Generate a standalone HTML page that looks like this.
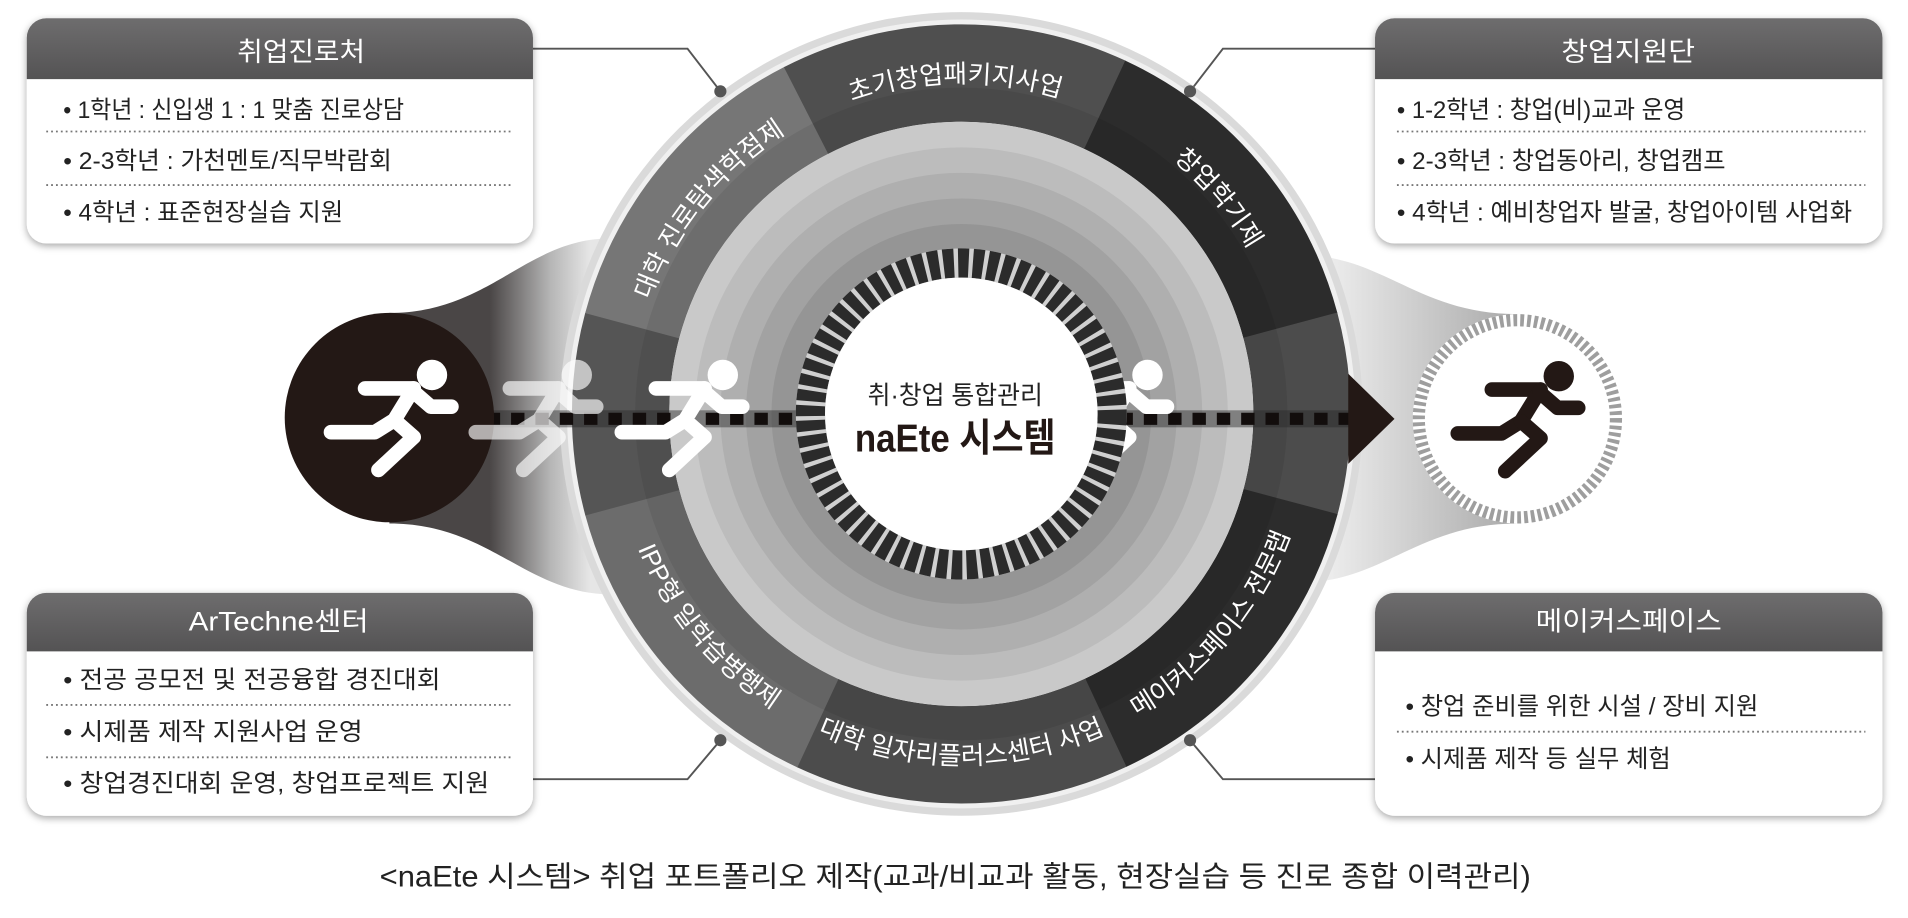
<!DOCTYPE html>
<html><head><meta charset="utf-8"><style>
html,body{margin:0;padding:0;background:#fff;}
svg{display:block;}
text{font-family:"Liberation Sans","Noto Sans CJK KR",sans-serif;}
</style></head><body>
<svg width="1908" height="918" viewBox="0 0 1568 754" preserveAspectRatio="none" xmlns="http://www.w3.org/2000/svg">
<defs>
<filter id="sh" x="-10%" y="-10%" width="120%" height="130%"><feDropShadow dx="0" dy="2" stdDeviation="3" flood-color="#000" flood-opacity="0.35"/></filter>
<linearGradient id="hd" x1="0" y1="0" x2="0" y2="1"><stop offset="0" stop-color="#6e6d6e"/><stop offset="1" stop-color="#545354"/></linearGradient>
<linearGradient id="fl" x1="320" y1="0" x2="485" y2="0" gradientUnits="userSpaceOnUse"><stop offset="0.5" stop-color="#4a4646"/><stop offset="0.8" stop-color="#b5b5b5"/><stop offset="1" stop-color="#e6e6e6"/></linearGradient>
<linearGradient id="fr" x1="1080" y1="0" x2="1247" y2="0" gradientUnits="userSpaceOnUse"><stop offset="0" stop-color="#f2f2f2"/><stop offset="1" stop-color="#a9a9a9"/></linearGradient>
<g id="run">
<polyline points="-21,-24 19,-24" fill="none"/>
<polyline points="19,-24 3,2 -13,12 -49,12" fill="none"/>
<polyline points="3,2 19,16 -10,43" fill="none"/>
<polyline points="18,-22 33,-9 50,-9" fill="none"/>
<circle cx="34" cy="-35" r="12.5" stroke="none"/>
</g>
<path id="a1" d="M611.5,134.7 A272,272 0 0 1 961.1,128.6"/>
<path id="a2" d="M518.1,344.8 A272,272 0 0 1 738.1,72.9"/>
<path id="a3" d="M837.2,72.1 A272,272 0 0 1 1062,340"/>
<path id="a4" d="M604.9,560.6 A288,288 0 0 0 975.1,560.6"/>
<path id="a5" d="M840,623.6 A288,288 0 0 0 1078,340"/>
<path id="a6" d="M502,340 A288,288 0 0 0 740,623.6"/>
</defs>

<path d="M320,257 C400,257 430,200 495,196 L495,488 C430,484 400,430 320,430 Z" fill="url(#fl)"/>
<path d="M1080,210 C1140,215 1170,258 1247,258 L1247,430 C1170,430 1140,473 1080,478 Z" fill="url(#fr)"/>

<g stroke="#555" stroke-width="1.6" fill="none">
<polyline points="438,40 565,40 592,75"/>
<polyline points="1130,40 1005,40 978,75"/>
<polyline points="438,640 565,640 592,608"/>
<polyline points="1130,640 1005,640 978,608"/>
</g>

<circle cx="790" cy="340" r="330" fill="#dadada"/>
<circle cx="790" cy="340" r="324" fill="#f0f0f0"/>
<g fill="none" stroke-width="80">
<circle cx="790" cy="340" r="280" pathLength="360" stroke="#767676" stroke-dasharray="48 312" transform="rotate(195 790 340)"/>
<circle cx="790" cy="340" r="280" pathLength="360" stroke="#4f4f4f" stroke-dasharray="52 308" transform="rotate(243 790 340)"/>
<circle cx="790" cy="340" r="280" pathLength="360" stroke="#2c2c2c" stroke-dasharray="50 310" transform="rotate(295 790 340)"/>
<circle cx="790" cy="340" r="280" pathLength="360" stroke="#4c4c4c" stroke-dasharray="30 330" transform="rotate(345 790 340)"/>
<circle cx="790" cy="340" r="280" pathLength="360" stroke="#2c2c2c" stroke-dasharray="50 310" transform="rotate(15 790 340)"/>
<circle cx="790" cy="340" r="280" pathLength="360" stroke="#4c4c4c" stroke-dasharray="50 310" transform="rotate(65 790 340)"/>
<circle cx="790" cy="340" r="280" pathLength="360" stroke="#6c6c6c" stroke-dasharray="50 310" transform="rotate(115 790 340)"/>
<circle cx="790" cy="340" r="280" pathLength="360" stroke="#555555" stroke-dasharray="30 330" transform="rotate(165 790 340)"/>
</g>
<circle cx="790" cy="340" r="254" fill="none" stroke="rgba(0,0,0,0.07)" stroke-width="28"/>
<circle cx="790" cy="340" r="240" fill="#c9c9c9"/>
<circle cx="790" cy="340" r="219" fill="#bcbcbc"/>
<circle cx="790" cy="340" r="198" fill="#afafaf"/>
<circle cx="790" cy="340" r="177" fill="#a2a2a2"/>
<circle cx="790" cy="340" r="156" fill="#959595"/>

<g fill="#fff" font-size="21">
<text><textPath href="#a1" startOffset="50%" text-anchor="middle">초기창업패키지사업</textPath></text>
<text><textPath href="#a2" startOffset="50%" text-anchor="middle">대학 진로탐색학점제</textPath></text>
<text><textPath href="#a3" startOffset="50%" text-anchor="middle">창업학기제</textPath></text>
<text><textPath href="#a4" startOffset="50%" text-anchor="middle">대학 일자리플러스센터 사업</textPath></text>
<text><textPath href="#a5" startOffset="50%" text-anchor="middle">메이커스페이스 전문랩</textPath></text>
<text><textPath href="#a6" startOffset="50%" text-anchor="middle">IPP형 일학습병행제</textPath></text>
</g>

<rect x="400" y="337" width="720" height="14" fill="rgba(40,40,40,0.45)"/>
<line x1="400" y1="344" x2="1110" y2="344" stroke="#120d0c" stroke-width="10" stroke-dasharray="11 9"/>
<polygon points="1108,307 1146,344 1108,381" fill="#231815"/>

<circle cx="320" cy="343" r="86" fill="#231815"/>
<use href="#run" x="321" y="343" stroke="#fff" fill="#fff" stroke-width="12" stroke-linecap="round" stroke-linejoin="round"/>
<use href="#run" x="440" y="343" stroke="#fff" fill="#fff" stroke-width="12" stroke-linecap="round" stroke-linejoin="round" opacity="0.65"/>
<use href="#run" x="560" y="343" stroke="#fff" fill="#fff" stroke-width="12" stroke-linecap="round" stroke-linejoin="round"/>
<use href="#run" x="909" y="343" stroke="#fff" fill="#fff" stroke-width="12" stroke-linecap="round" stroke-linejoin="round"/>

<circle cx="790" cy="340" r="124" fill="none" stroke="#d0d0d0" stroke-width="24"/>
<circle cx="790" cy="340" r="124" fill="none" stroke="#2b2b2b" stroke-width="24" pathLength="360" stroke-dasharray="4 1.6"/>
<circle cx="790" cy="340" r="112" fill="#fff"/>
<text x="785" y="332" font-size="21" fill="#222" text-anchor="middle" textLength="144" lengthAdjust="spacingAndGlyphs">취·창업 통합관리</text>
<text x="785" y="371" font-size="32" font-weight="bold" fill="#231815" text-anchor="middle" textLength="165" lengthAdjust="spacingAndGlyphs">naEte 시스템</text>

<circle cx="1247" cy="344" r="86" fill="#fff"/>
<circle cx="1247" cy="344" r="81" fill="none" stroke="#9e9e9e" stroke-width="10" pathLength="360" stroke-dasharray="2.2 1.8"/>
<use href="#run" x="1247" y="344" stroke="#231815" fill="#231815" stroke-width="12" stroke-linecap="round" stroke-linejoin="round"/>

<g fill="#555"><circle cx="592" cy="75" r="5"/><circle cx="978" cy="75" r="5"/><circle cx="592" cy="608" r="5"/><circle cx="978" cy="608" r="5"/></g>

<g filter="url(#sh)">
<rect x="22" y="15" width="416" height="185" rx="16" fill="#fff"/>
<rect x="1130" y="15" width="417" height="185" rx="16" fill="#fff"/>
<rect x="22" y="487" width="416" height="183" rx="16" fill="#fff"/>
<rect x="1130" y="487" width="417" height="183" rx="16" fill="#fff"/>
</g>
<g fill="url(#hd)">
<path d="M22,65 V31 a16,16 0 0 1 16,-16 H422 a16,16 0 0 1 16,16 V65 Z"/>
<path d="M1130,65 V31 a16,16 0 0 1 16,-16 H1531 a16,16 0 0 1 16,16 V65 Z"/>
<path d="M22,535 V503 a16,16 0 0 1 16,-16 H422 a16,16 0 0 1 16,16 V535 Z"/>
<path d="M1130,535 V503 a16,16 0 0 1 16,-16 H1531 a16,16 0 0 1 16,16 V535 Z"/>
</g>
<g fill="#fff" font-size="22">
<text x="195" y="50" textLength="105" lengthAdjust="spacingAndGlyphs">취업진로처</text>
<text x="1283" y="50" textLength="110" lengthAdjust="spacingAndGlyphs">창업지원단</text>
<text x="155" y="518" textLength="148" lengthAdjust="spacingAndGlyphs">ArTechne센터</text>
<text x="1262" y="518" textLength="153" lengthAdjust="spacingAndGlyphs">메이커스페이스</text>
</g>
<g stroke="#777" stroke-width="1.5" stroke-dasharray="1.5 2.5">
<line x1="38" y1="108" x2="420" y2="108"/><line x1="38" y1="152" x2="420" y2="152"/>
<line x1="1148" y1="108" x2="1533" y2="108"/><line x1="1148" y1="152" x2="1533" y2="152"/>
<line x1="38" y1="579" x2="420" y2="579"/><line x1="38" y1="622" x2="420" y2="622"/>
<line x1="1148" y1="601" x2="1533" y2="601"/>
</g>
<g fill="#222" font-size="20">
<text x="52" y="97" textLength="280" lengthAdjust="spacingAndGlyphs">• 1학년 : 신입생 1 : 1 맞춤 진로상담</text>
<text x="52" y="139" textLength="270" lengthAdjust="spacingAndGlyphs">• 2-3학년 : 가천멘토/직무박람회</text>
<text x="52" y="181" textLength="230" lengthAdjust="spacingAndGlyphs">• 4학년 : 표준현장실습 지원</text>
<text x="1148" y="97" textLength="237" lengthAdjust="spacingAndGlyphs">• 1-2학년 : 창업(비)교과 운영</text>
<text x="1148" y="139" textLength="270" lengthAdjust="spacingAndGlyphs">• 2-3학년 : 창업동아리, 창업캠프</text>
<text x="1148" y="181" textLength="374" lengthAdjust="spacingAndGlyphs">• 4학년 : 예비창업자 발굴, 창업아이템 사업화</text>
<text x="52" y="565" textLength="310" lengthAdjust="spacingAndGlyphs">• 전공 공모전 및 전공융합 경진대회</text>
<text x="52" y="608" textLength="246" lengthAdjust="spacingAndGlyphs">• 시제품 제작 지원사업 운영</text>
<text x="52" y="650" textLength="350" lengthAdjust="spacingAndGlyphs">• 창업경진대회 운영, 창업프로젝트 지원</text>
<text x="1155" y="587" textLength="290" lengthAdjust="spacingAndGlyphs">• 창업 준비를 위한 시설 / 장비 지원</text>
<text x="1155" y="630" textLength="218" lengthAdjust="spacingAndGlyphs">• 시제품 제작 등 실무 체험</text>
</g>

<text x="312" y="728" font-size="24" fill="#222" textLength="946" lengthAdjust="spacingAndGlyphs">&lt;naEte 시스템&gt; 취업 포트폴리오 제작(교과/비교과 활동, 현장실습 등 진로 종합 이력관리)</text>
</svg>
</body></html>
